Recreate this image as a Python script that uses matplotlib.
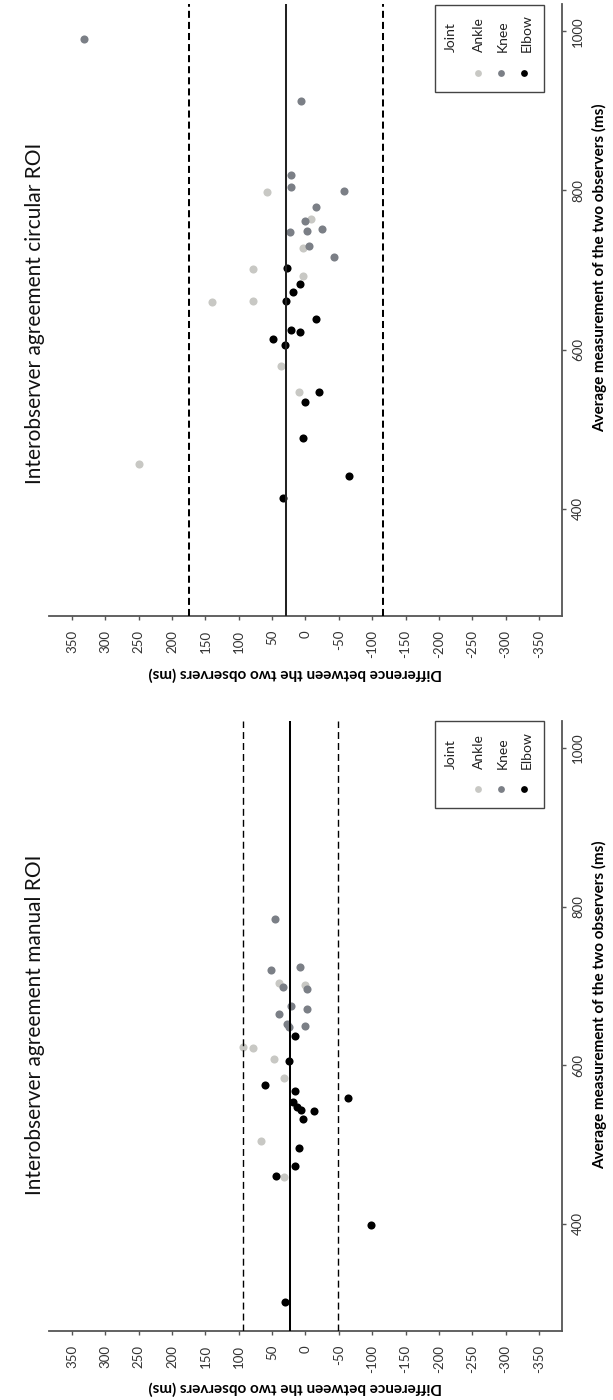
import matplotlib
matplotlib.use("Agg")
import matplotlib.pyplot as plt
from matplotlib.patches import Rectangle

plt.rcParams['font.family'] = ['Lato', 'DejaVu Sans']
plt.rcParams['axes.unicode_minus'] = False

# Manual ROI: average of the two observers (ms) and their difference (ms)
manual_ankle_avg = [704, 701, 623, 622, 608, 584, 504, 459]
manual_ankle_diff = [39, 0, 94, 78, 47, 32, 66, 32]
manual_knee_avg = [785, 720, 724, 699, 696, 675, 671, 664, 652, 648, 650]
manual_knee_diff = [46, 52, 8, 34, -2, 22, -2, 39, 27, 25, 0]
manual_elbow_avg = [637, 605, 575, 567, 559, 554, 548, 543, 542, 532, 496, 473, 461, 398, 301]
manual_elbow_diff = [16, 25, 60, 15, -64, 19, 12, 7, -13, 4, 10, 16, 44, -98, 30]
manual_bias = 23
manual_loa = [94, -48]

# Circular ROI
circular_ankle_avg = [798, 764, 728, 701, 692, 660, 661, 579, 546, 456]
circular_ankle_diff = [58, -8, 4, 78, 3, 140, 78, 36, 10, 250]
circular_knee_avg = [990, 913, 820, 804, 799, 779, 762, 748, 749, 752, 730, 716]
circular_knee_diff = [332, 6, 22, 22, -57, -16, 0, 23, -2, -24, -5, -43]
circular_elbow_avg = [703, 683, 672, 661, 639, 625, 622, 613, 606, 546, 534, 489, 441, 413]
circular_elbow_diff = [28, 8, 18, 29, -16, 22, 8, 48, 31, -20, 1, 3, -65, 34]
circular_bias = 29
circular_loa = [174, -116]

joints = ['Ankle', 'Knee', 'Elbow']
joint_colors = {'Ankle': '#c8c8c4', 'Knee': '#7b7f86', 'Elbow': '#000000'}
diff_ticks = list(range(-350, 351, 50))
avg_ticks = [400, 600, 800, 1000]

W, H = 613, 1400
fig = plt.figure(figsize=(W / 100, H / 100), dpi=100)


def px_axes(x0, y0, x1, y1):
    # pixel box (from top-left) -> figure fraction rectangle
    return [x0 / W, 1 - y1 / H, (x1 - x0) / W, (y1 - y0) / H]


def draw_panel(rect, series, bias, loa, heavy):
    ax = fig.add_axes(rect)
    for joint, (avg, diff) in zip(joints, series):
        ax.scatter(diff, avg, s=34, color=joint_colors[joint], linewidths=0, zorder=2)

    lw = 1.45 if heavy else 1.0
    dash = (3.5, 2.0) if heavy else (5.0, 2.9)
    ax.axvline(bias, color='#222222' if heavy else '#000000', lw=1.45, zorder=3)
    for v in loa:
        ax.axvline(v, color='#000000', lw=lw, dashes=dash, zorder=3)

    ax.set_xlim(385, -385)
    ax.set_ylim(265, 1034)
    ax.set_xticks(diff_ticks)
    ax.set_yticks(avg_ticks)
    for side in ('top', 'left'):
        ax.spines[side].set_visible(False)
    for side in ('bottom', 'right'):
        ax.spines[side].set_color('#555555')
        ax.spines[side].set_linewidth(1.3)
    ax.yaxis.tick_right()
    ax.tick_params(axis='x', length=3, width=1, color='#555555', labelrotation=90,
                   labelsize=9.5, labelcolor='#333333', pad=7)
    ax.tick_params(axis='y', length=3, width=1, color='#555555', labelrotation=90,
                   labelsize=9.5, labelcolor='#333333', pad=4)
    for lab in ax.get_yticklabels():
        lab.set_va('center')

    # legend box, rotated with the rest of the panel
    ax.add_patch(Rectangle((0.7522, 0.8571), 0.2128, 0.1422, transform=ax.transAxes,
                           fill=False, edgecolor='#444444', lw=1.0, clip_on=False, zorder=5))
    ax.text(0.7833, 0.922, 'Joint', transform=ax.transAxes, rotation=90,
            ha='center', va='bottom', fontsize=10, color='#222222')
    for joint, tx, mx in zip(joints, [0.8378, 0.8836, 0.9303], [0.8354, 0.8814, 0.9261]):
        ax.text(tx, 0.922, joint, transform=ax.transAxes, rotation=90,
                ha='center', va='bottom', fontsize=10, color='#222222')
        ax.scatter([mx], [0.888], s=24, color=joint_colors[joint], linewidths=0,
                   transform=ax.transAxes, clip_on=False, zorder=6)
    return ax


draw_panel(px_axes(48.7, 4.3, 562.3, 616),
           [(circular_ankle_avg, circular_ankle_diff),
            (circular_knee_avg, circular_knee_diff),
            (circular_elbow_avg, circular_elbow_diff)],
           circular_bias, circular_loa, heavy=True)
draw_panel(px_axes(48.7, 721, 562.3, 1331),
           [(manual_ankle_avg, manual_ankle_diff),
            (manual_knee_avg, manual_knee_diff),
            (manual_elbow_avg, manual_elbow_diff)],
           manual_bias, manual_loa, heavy=False)

# panel titles and axis labels
fig.text(35 / W, 1 - 143 / H, 'Interobserver agreement circular ROI', rotation=90,
         ha='center', va='top', fontsize=15, color='#111111')
fig.text(35 / W, 1 - 855 / H, 'Interobserver agreement manual ROI', rotation=90,
         ha='center', va='top', fontsize=15, color='#111111')
for y_top in (103, 840):
    fig.text(600 / W, 1 - y_top / H, 'Average measurement of the two observers (ms)',
             rotation=90, ha='center', va='top', fontsize=11, fontweight='bold')
for y_c in (674, 1388):
    fig.text(295 / W, 1 - y_c / H, 'Difference between the two observers (ms)',
             rotation=180, ha='center', va='center', fontsize=11, fontweight='bold')

fig.savefig('out.png', dpi=100)
